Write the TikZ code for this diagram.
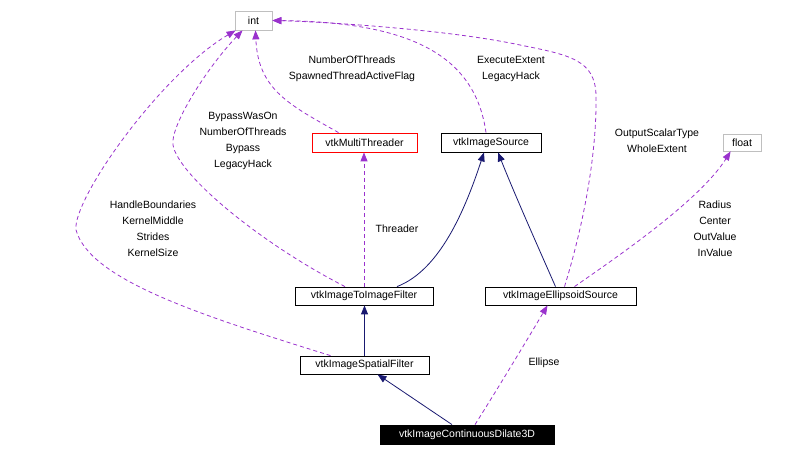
\documentclass[tikz,border=0pt]{standalone}
\usepackage{fontspec}
\setmainfont{Liberation Sans}
\usetikzlibrary{calc,arrows.meta}
\definecolor{edgenavy}{RGB}{25,25,112}
\definecolor{edgepurple}{RGB}{154,50,205}
\definecolor{boxgrey}{RGB}{191,191,191}
\tikzset{cls/.style={draw=black, rectangle, inner sep=0pt, line width=0.8bp,
    minimum height=19bp, font=\fontsize{10.5bp}{12bp}\selectfont},
  ext/.style={cls, draw=boxgrey},
  inherit/.style={draw=edgenavy, line width=0.8bp, -{Triangle[length=9bp,width=7bp]}},
  uses/.style={draw=edgepurple, line width=0.8bp, dash pattern=on 4bp off 3bp,
    -{Triangle[length=9bp,width=7bp]}},
  lbl/.style={align=center, inner sep=0pt, font=\fontsize{10.5bp}{16bp}\selectfont}}

\begin{document}
\begin{tikzpicture}[x=1bp, y=-1bp]
          \useasboundingbox (0, 0) rectangle (809, 456);

          % classes
          \node at (253.5, 20.5) [ext, minimum width=37bp] (int) {int};
          \node at (742, 142.5) [ext, minimum width=38bp, minimum height=17bp] (float) {float};
          \node at (364.5, 142.5) [cls, draw=red, minimum width=105bp] (threader) {vtkMultiThreader};
          \node at (491, 142.5) [cls, minimum width=100bp] (source) {vtkImageSource};
          \node at (364, 296) [cls, minimum width=138bp, minimum height=18bp] (toimage) {vtkImageToImageFilter};
          \node at (560.5, 296) [cls, minimum width=151bp, minimum height=18bp] (ellipsoid) {vtkImageEllipsoidSource};
          \node at (364.5, 365) [cls, minimum width=129bp, minimum height=18bp] (spatial) {vtkImageSpatialFilter};
          \node at (467, 434.5) [cls, fill=black, text=white, minimum width=174bp] (dilate) {vtkImageContinuousDilate3D};

          % inheritance
          \draw[inherit] (spatial.north) -- (spatial.north |- toimage.south);
          \draw[inherit] ($ (dilate.north) + (-15,0) $) -- ($ (spatial.south) + (13,0) $);
          \draw[inherit] ($ (toimage.north) + (33,0) $)
            .. controls (440, 270) and (465, 210) .. ($ (source.south) + (-7,0) $);
          \draw[inherit] ($ (ellipsoid.north) + (-5,0) $)
            .. controls (535, 240) and (515, 195) .. ($ (source.south) + (7,0) $);

          % members
          \draw[uses] ($ (threader.north) + (-26,0) $)
            .. controls (290, 105) and (258, 90) .. ($ (int.south) + (2,0) $);
          \draw[uses] ($ (toimage.north) + (-19,0) $)
            .. controls (260, 243) and (178, 175) .. (173, 145)
            .. controls (170, 127) and (205, 70) .. ($ (int.south) + (-11,0) $);
          \draw[uses] ($ (spatial.north) + (-34,0) $)
            .. controls (200, 315) and (90, 280) .. (76, 230)
            .. controls (72, 200) and (160, 75) .. ($ (int.south west) + (1,0) $);
          \draw[uses] ($ (source.north) + (-5,0) $)
            .. controls (475, 55) and (410, 22) .. (int.east);
          \draw[uses] ($ (ellipsoid.north) + (4,0) $)
            .. controls (585, 220) and (597, 150) .. (596, 95)
            .. controls (595, 60) and (570, 55) .. (520, 45)
            .. controls (450, 30) and (330, 22) .. (int.east);
          \draw[uses] ($ (ellipsoid.north) + (14,0) $)
            .. controls (620, 255) and (700, 200) .. ($ (float.south west) + (8,0) $);
          \draw[uses] (toimage.north) -- (toimage.north |- threader.south);
          \draw[uses] ($ (dilate.north) + (8,0) $)
            .. controls (500, 385) and (530, 335) .. ($ (ellipsoid.south) + (-13,0) $);

          % edge labels
          \node at (352, 69) [lbl] (lblthreads) {NumberOfThreads\\SpawnedThreadActiveFlag};
          \node at (511, 69) [lbl] (lblextent) {ExecuteExtent\\LegacyHack};
          \node at (243, 141) [lbl] (lblbypass) {BypassWasOn\\NumberOfThreads\\Bypass\\LegacyHack};
          \node at (153, 229) [lbl] (lblkernel) {HandleBoundaries\\KernelMiddle\\Strides\\KernelSize};
          \node at (397, 229) [lbl] (lblthreader) {Threader};
          \node at (657, 141) [lbl] (lblscalar) {OutputScalarType\\WholeExtent};
          \node at (715, 229) [lbl] (lblradius) {Radius\\Center\\OutValue\\InValue};
          \node at (544, 363) [lbl] (lblellipse) {Ellipse};
        \end{tikzpicture}
\end{document}
